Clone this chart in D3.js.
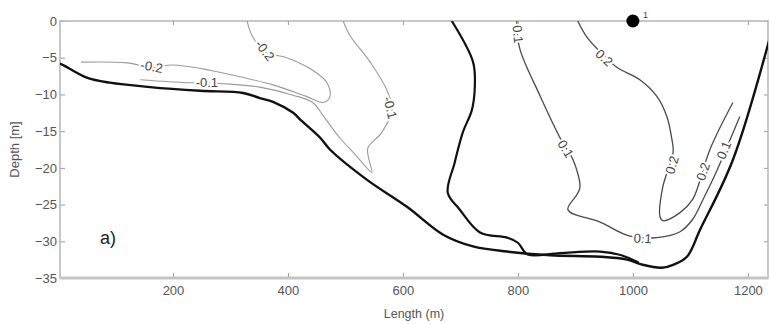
<!DOCTYPE html>
<html>
<head>
<meta charset="utf-8">
<title>Depth section</title>
<script src="https://cdn.jsdelivr.net/npm/d3@7"></script>
<style>
body { margin: 0; background: #fff; }
svg text { font-family: "Liberation Sans", Arial, sans-serif; }
.tick text { font-size: 13px; fill: #555; }
.tick line { stroke: #999; }
</style>
</head>
<body>
<svg width="770" height="324" id="chart"></svg>
<script>
// tick values
var lengthTicks = [200, 400, 600, 800, 1000, 1200];
var depthTicks = [0, -5, -10, -15, -20, -25, -30, -35];

// bed profile [length, depth]
var bathymetry = [[3,-5.8],[9,-6.0],[50,-7.7],[90,-8.4],[160,-9.0],[247,-9.5],[322,-9.8],[351,-10.5],
  [374,-11.0],[409,-12.5],[421,-13.4],[456,-15.9],[473,-17.5],[537,-21.6],[607,-25.3],[670,-29.1],
  [722,-30.7],[781,-31.4],[856,-31.9],[943,-32.1],[990,-32.5],[1017,-33.2],[1050,-33.6],[1070,-33.2],
  [1094,-32.1],[1117,-28.4],[1174,-18.9],[1246,0]];

// contour lines
var contourZero = [[685,0],[722,-5.6],[725,-9.0],[720,-12.1],[704,-15.2],[690,-19.3],[678,-23.4],
  [699,-25.7],[734,-28.8],[781,-29.5],[800,-30.2],[817,-31.8],[873,-31.6],[943,-31.4],[980,-31.9],
  [1010,-32.9]];
var contourM02 = [[329,0],[337,-1.9],[360,-4.2],[398,-5.0],[443,-6.7],[468,-8.4],[473,-10.3],[461,-11.1],
  [433,-10.3],[374,-8.7],[317,-7.6],[264,-6.7],[200,-6.0],[163,-6.3],[120,-5.7],[40,-5.6]];
var contourM01 = [[143,-8.0],[224,-8.4],[259,-8.4],[299,-8.6],[351,-9.0],[409,-10.1],[443,-11.1],
  [464,-13.2],[490,-15.9],[517,-18.2],[546,-20.6],[541,-18.9],[539,-17.3],[563,-15.2],[581,-12.1],
  [572,-9.4],[543,-5.6],[508,-2.0],[496,0]];
var contourP01 = [[798,0],[803,-3.7],[838,-10.1],[878,-16.6],[896,-18.9],[908,-22.6],[903,-23.6],
  [887,-25.7],[943,-27.4],[995,-29.3],[1042,-29.5],[1082,-28.7],[1104,-27.0],[1122,-24.3],[1143,-20.9],[1186,-13.0]];
var contourP02 = [[904,0],[920,-2.2],[943,-4.2],[972,-6.3],[1012,-8.0],[1042,-10.3],[1059,-13.0],
  [1068,-16.2],[1070,-17.9],[1052,-22.6],[1047,-26.6],[1052,-27.2],[1082,-26.1],[1104,-24.3],
  [1113,-22.6],[1134,-17.5],[1174,-11.1]];

// contour labels: text, line, position
var contourLabels = [
  {text: "-0.2", line: contourM02, x: 163, y: -6.2},
  {text: "-0.1", line: contourM01, x: 259, y: -8.4},
  {text: "-0.2", line: contourM02, x: 360, y: -4.0},
  {text: "-0.1", line: contourM01, x: 578, y: -11.8},
  {text: "0.1", line: contourP01, x: 800, y: -1.8},
  {text: "0.1", line: contourP01, x: 883, y: -17.4},
  {text: "0.2", line: contourP02, x: 950, y: -5.0},
  {text: "0.2", line: contourP02, x: 1068, y: -19.6},
  {text: "0.1", line: contourP01, x: 1017, y: -29.6},
  {text: "0.2", line: contourP02, x: 1122, y: -20.5},
  {text: "0.1", line: contourP01, x: 1158, y: -17.6}
];

var station = {x: 1000, y: 0, label: "1"};

var svg = d3.select("#chart"),
    margin = {top: 21, right: 2, bottom: 46, left: 60},
    width = +svg.attr("width") - margin.left - margin.right,
    height = +svg.attr("height") - margin.top - margin.bottom;

var x = d3.scaleLinear().domain([3.5, 1235]).range([margin.left, margin.left + width]);
var y = d3.scaleLinear().domain([-35, 0]).range([margin.top + height, margin.top]);

svg.append("clipPath").attr("id", "plotClip").append("rect")
  .attr("x", margin.left).attr("y", margin.top).attr("width", width).attr("height", height);

// axes with inward ticks, MATLAB style
svg.append("g").attr("transform", "translate(0," + (margin.top + height) + ")")
  .call(d3.axisBottom(x).tickValues(lengthTicks).tickSize(-5).tickPadding(8).tickFormat(d3.format("d")))
  .select(".domain").remove();
svg.append("g").attr("transform", "translate(0," + margin.top + ")")
  .call(d3.axisTop(x).tickValues(lengthTicks).tickSize(-4).tickFormat(""))
  .select(".domain").remove();
svg.append("g").attr("transform", "translate(" + margin.left + ",0)")
  .call(d3.axisLeft(y).tickValues(depthTicks).tickSize(-5).tickPadding(3).tickFormat(d3.format("d")))
  .select(".domain").remove();
svg.append("g").attr("transform", "translate(" + (margin.left + width) + ",0)")
  .call(d3.axisRight(y).tickValues(depthTicks).tickSize(-4).tickFormat(""))
  .select(".domain").remove();

svg.append("rect").attr("x", margin.left).attr("y", margin.top)
  .attr("width", width).attr("height", height)
  .attr("fill", "none").attr("stroke", "#b5b5b5").attr("stroke-width", 1.5);
svg.append("line").attr("x1", margin.left).attr("x2", margin.left + width)
  .attr("y1", margin.top + height).attr("y2", margin.top + height)
  .attr("stroke", "#c4c4c4").attr("stroke-width", 3);

var line = d3.line().x(function(d) { return x(d[0]); }).y(function(d) { return y(d[1]); })
  .curve(d3.curveCatmullRom.alpha(0.5));

var plot = svg.append("g").attr("clip-path", "url(#plotClip)");

plot.append("path").datum(contourM02).attr("d", line)
  .attr("fill", "none").attr("stroke", "#9a9a9a").attr("stroke-width", 1.1);
plot.append("path").datum(contourM01).attr("d", line)
  .attr("fill", "none").attr("stroke", "#9a9a9a").attr("stroke-width", 1.1);
plot.append("path").datum(contourP01).attr("d", line)
  .attr("fill", "none").attr("stroke", "#4a4a4a").attr("stroke-width", 1.3);
plot.append("path").datum(contourP02).attr("d", line)
  .attr("fill", "none").attr("stroke", "#4a4a4a").attr("stroke-width", 1.3);
plot.append("path").datum(contourZero).attr("d", line)
  .attr("fill", "none").attr("stroke", "#111").attr("stroke-width", 2.2);
plot.append("path").datum(bathymetry).attr("d", line)
  .attr("fill", "none").attr("stroke", "#111").attr("stroke-width", 2.4);

// label angle follows the nearest segment of its contour
function labelAngle(d) {
  var px = x(d.x), py = y(d.y), best = Infinity, ang = 0;
  for (var i = 0; i < d.line.length - 1; i++) {
    var x1 = x(d.line[i][0]), y1 = y(d.line[i][1]), x2 = x(d.line[i+1][0]), y2 = y(d.line[i+1][1]);
    var dx = x2 - x1, dy = y2 - y1, t = ((px - x1) * dx + (py - y1) * dy) / (dx * dx + dy * dy);
    t = Math.max(0, Math.min(1, t));
    var dist = Math.hypot(px - (x1 + t * dx), py - (y1 + t * dy));
    if (dist < best) { best = dist; ang = Math.atan2(dy, dx) * 180 / Math.PI; }
  }
  if (ang > 90) ang -= 180;
  if (ang < -90) ang += 180;
  return ang;
}

svg.selectAll(".clabel").data(contourLabels).enter().append("text")
  .attr("class", "clabel")
  .attr("transform", function(d) { return "translate(" + x(d.x) + "," + y(d.y) + ") rotate(" + labelAngle(d) + ")"; })
  .attr("text-anchor", "middle").attr("dy", "0.35em")
  .attr("font-size", 13).attr("fill", "#444")
  .attr("stroke", "#fff").attr("stroke-width", 4).attr("paint-order", "stroke")
  .text(function(d) { return d.text; });

svg.append("circle").attr("cx", x(station.x)).attr("cy", y(station.y)).attr("r", 6.5).attr("fill", "#000");
svg.append("text").attr("x", x(station.x) + 10).attr("y", y(station.y) - 3)
  .attr("font-size", 9).attr("fill", "#444").text(station.label);

svg.append("text").attr("x", x(73)).attr("y", y(-30.4))
  .attr("font-size", 18).attr("fill", "#222").text("a)");

svg.append("text").attr("x", margin.left + width / 2).attr("y", 318)
  .attr("text-anchor", "middle").attr("font-size", 12.5).attr("fill", "#555").text("Length (m)");
svg.append("text").attr("transform", "translate(19," + (margin.top + height / 2) + ") rotate(-90)")
  .attr("text-anchor", "middle").attr("font-size", 13).attr("fill", "#555").text("Depth [m]");
</script>
</body>
</html>
